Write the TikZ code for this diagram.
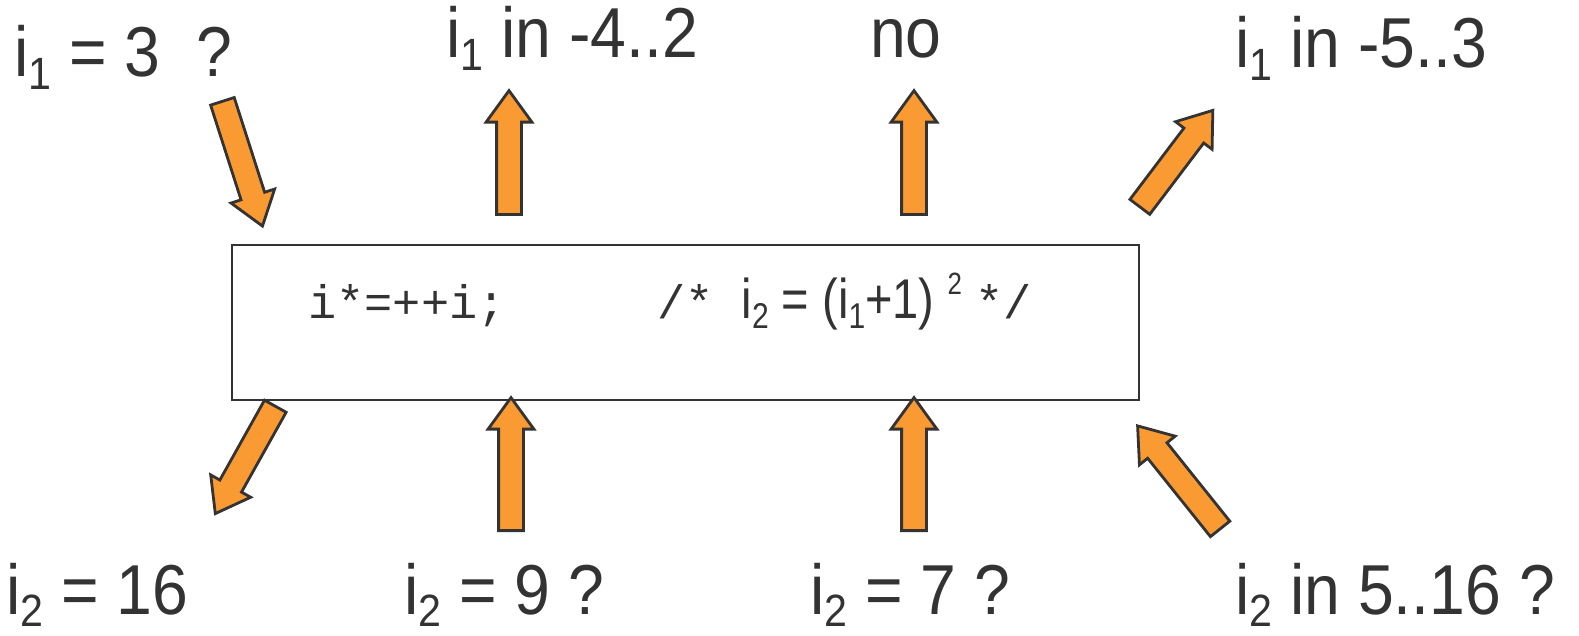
\documentclass[tikz,border=0pt]{standalone}
\usepackage{fontspec}
\setmainfont{Liberation Sans}[FakeStretch=0.91]
\setsansfont{Liberation Sans}[FakeStretch=0.84]
\setmonofont{Liberation Mono}
\usetikzlibrary{positioning,shapes.arrows}
\definecolor{arrowfill}{RGB}{250,154,50}
\definecolor{inkgray}{RGB}{51,51,51}
\newcommand{\idx}[1]{\raisebox{-0.18em}{\scalebox{0.64}{#1}}}
\newcommand{\pow}[1]{\raisebox{0.42em}{\scalebox{0.55}{#1}}}
\newcommand{\codetext}[1]{{\fontsize{47}{56}\selectfont\ttfamily #1}}
\tikzset{
  figlabel/.style={anchor=base west, inner sep=0pt, text=inkgray,
    font=\fontsize{70.7}{80}\selectfont},
  figcode/.style={anchor=base west, inner sep=0pt, text=inkgray,
    font=\fontsize{47}{56}\selectfont\ttfamily},
  fignote/.style={anchor=base west, inner sep=0pt, text=inkgray,
    font=\fontsize{56}{64}\selectfont\sffamily},
  figbox/.style={draw=inkgray, line width=1.5pt, minimum width=907pt,
    minimum height=155pt, inner sep=0pt},
  figarrow/.style={single arrow, draw=inkgray, fill=arrowfill, line width=2.8pt,
    inner xsep=0pt, inner ysep=11pt, minimum width=0pt,
    single arrow head extend=10.5pt, single arrow tip angle=72, anchor=tail},
}

\begin{document}
\begin{tikzpicture}[x=1pt,y=-1pt]
  \useasboundingbox (0,0) rectangle (1579,636);

  % statement box
  \node[figbox] (stmt) at (685.5,322.5) {};
  \node[figcode] (code) at (308,318) {i*=++i;};
  \node[fignote] (comment) at (657,318)
    {\codetext{/*}\hspace{28pt}i\idx{2} = (i\idx{1}+1) \pow{2} \codetext{*/}};

  % questions and answers
  \node[figlabel] (askOne)    at (14,77)   {i\idx{1} = 3\ \ ?};
  \node[figlabel] (rangeOne)  at (446,58)  {i\idx{1} in -4..2};
  \node[figlabel] (answerNo)  at (870,58)  {no};
  \node[figlabel] (rangeTwo)  at (1235,68) {i\idx{1} in -5..3};
  \node[figlabel] (resSixteen) at (6,614)  {i\idx{2} = 16};
  \node[figlabel] (askNine)   at (404,614) {i\idx{2} = 9 ?};
  \node[figlabel] (askSeven)  at (810,614) {i\idx{2} = 7 ?};
  \node[figlabel] (askRange)  at (1235,614) {i\idx{2} in 5..16 ?};

  % block arrows: tail point, angle, length
  \foreach \name/\x/\y/\ang/\len in {
      arrAskOne/222/100/-72.2/131,
      arrRangeOne/509/216/90/124,
      arrNo/914/216/90/124,
      arrRangeTwo/1139/208/52.9/121,
      arrSixteen/276/405/-119.2/123,
      arrNine/511/532/90/133,
      arrSeven/914/532/90/133,
      arrRange/1221/530/128.7/132} {
    \node[figarrow, rotate=\ang, minimum height=\len pt] (\name) at (\x,\y) {};
  }
\end{tikzpicture}
\end{document}
